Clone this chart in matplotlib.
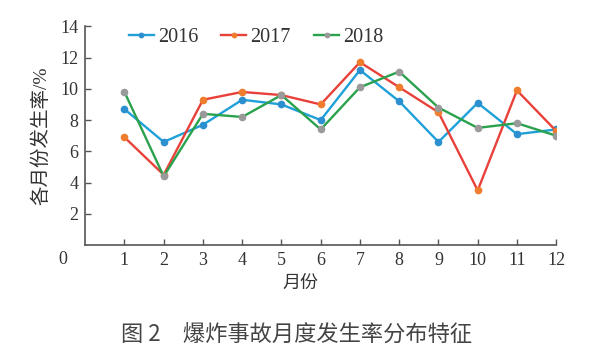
import matplotlib.pyplot as plt

plt.rcParams['font.family'] = ['Liberation Serif', 'Noto Sans CJK SC']

months = [1, 2, 3, 4, 5, 6, 7, 8, 9, 10, 11, 12]
rate_2016 = [8.7, 6.6, 7.7, 9.3, 9.0, 8.0, 11.2, 9.2, 6.6, 9.1, 7.1, 7.4]
rate_2017 = [6.9, 4.5, 9.3, 9.8, 9.6, 9.0, 11.7, 10.1, 8.5, 3.5, 9.9, 7.3]
rate_2018 = [9.8, 4.4, 8.4, 8.2, 9.6, 7.4, 10.1, 11.1, 8.8, 7.5, 7.8, 7.0]
y_ticks = [2, 4, 6, 8, 10, 12, 14]

cjk = ['Noto Sans CJK SC', 'DejaVu Sans']

fig = plt.figure(figsize=(6, 3.6), dpi=100)
ax = fig.add_axes([0.142, 0.319, 0.785, 0.608])

ax.plot(months, rate_2016, color='#1fa0d8', lw=1.7, marker='o', ms=4.5,
        mfc='#2b8fd0', mec='#2b8fd0', label='2016')
ax.plot(months, rate_2017, color='#e8413a', lw=1.7, marker='o', ms=4.5,
        mfc='#f07d2e', mec='#f07d2e', label='2017')
ax.plot(months, rate_2018, color='#2aa14c', lw=1.7, marker='o', ms=4.5,
        mfc='#9a9a9a', mec='#9a9a9a', label='2018')

ax.set_xlim(0, 12)
ax.set_ylim(0, 14)
ax.set_xticks(months)
ax.set_yticks(y_ticks)
ax.tick_params(direction='in', length=4, width=1, color='#555555',
               labelsize=13, labelcolor='#333333', pad=5)
for side in ('top', 'right'):
    ax.spines[side].set_visible(False)
for side in ('left', 'bottom'):
    ax.spines[side].set_color('#555555')
    ax.spines[side].set_linewidth(1.2)

# the lone "0" sits below-left of the origin
ax.text(-0.45, -0.4, '0', transform=ax.transData, ha='right', va='top',
        fontsize=13, color='#333333')

xl = ax.set_xlabel('月份', family=cjk, fontsize=13, color='#333333')
xl.set_va('center')
ax.xaxis.set_label_coords(0.456, -0.174)
# serif first so "/%" comes out in the Times-like face
yl = ax.set_ylabel('各月份发生率/%', family=['Liberation Serif', 'Noto Sans CJK SC'],
                   fontsize=14, color='#333333')
yl.set_va('center')
ax.yaxis.set_label_coords(-0.093, 0.5)

ax.legend(loc='center left', bbox_to_anchor=(0.075, 0.95), ncol=3, frameon=False,
          fontsize=14.5, handlelength=1.25, handletextpad=0.2, columnspacing=1.15,
          markerscale=0.7, labelcolor='#333333', borderaxespad=0)

fig.text(0.495, 0.072, '图 2\u3000爆炸事故月度发生率分布特征', family=cjk, fontsize=16,
         ha='center', va='center', color='#444444')

fig.savefig('out.png', dpi=100)
